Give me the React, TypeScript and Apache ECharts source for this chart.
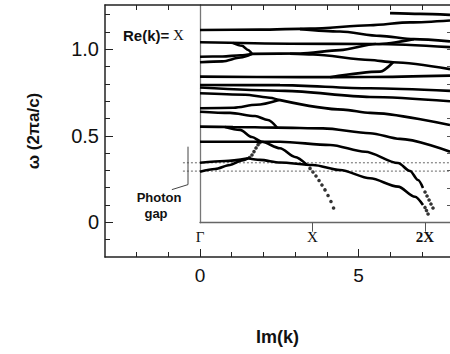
import React, { useEffect, useRef } from "react";
import * as echarts from "echarts";

// ---------- axes ----------
const imKRange = [-3, 7.89];
const omegaRange = [-0.2, 1.255];
const innerOmegaRange = [0, 1.255];
const reKRange = [0, 2.222];

const imKMinorTicks = [-2, -1, 1, 2, 3, 4, 6, 7];
const imKTopTicks = [-2, -1, 1, 2, 3, 4, 5, 6, 7];
const imKMajorTicks = [0, 5];
const imKLabels = [0, 5];
const omegaMinorTicks = [-0.1, 0.1, 0.2, 0.3, 0.4, 0.6, 0.7, 0.8, 0.9, 1.1, 1.2];
const omegaMajorTicks = [0, 0.5, 1.0];
const omegaLabels = [0, 0.5, 1.0];
const reKTickValues = [1, 2];
const reKLabelValues = [0, 1, 2];
const reKLabels = ["Γ", "X", "2X"];
const innerRightTicks = [0.1, 0.2, 0.3, 0.4, 0.5, 0.6, 0.7, 0.8, 0.9, 1.0, 1.1, 1.2];

// ---------- photon gap ----------
const gapEdges = [0.296, 0.344];
const gapLineImK = [-0.54, 7.89];
const gapBracket = [[-0.38, 0.437], [-0.38, 0.218], [-0.89, 0.189]];

// ---------- bands (Re(k) in units of X, omega in 2πa/c) ----------
const bandTopShort = [[1.689, 1.208], [1.956, 1.204], [2.222, 1.198]];
const bandA = [[0, 1.111], [0.533, 1.113], [0.978, 1.119], [1.511, 1.138], [1.867, 1.155], [2.222, 1.166]];
const bandABranch = [[0.889, 1.116], [1.244, 1.102], [1.6, 1.077], [1.9, 1.058], [2.222, 1.045]];
const bandB = [[0, 1.04], [0.8, 1.032], [1.564, 1.03], [2.222, 1.012]];
const bandBLoop = [[0.29, 1.037], [0.373, 1.02], [0.427, 0.996], [0.462, 0.973]];
const bandC1 = [[0, 0.957], [0.2, 0.958], [0.36, 0.965], [0.462, 0.973]];
const bandC2 = [[0, 0.925], [0.2, 0.93], [0.36, 0.952], [0.462, 0.973]];
const bandC = [[0.462, 0.973], [0.889, 0.975], [1.244, 0.995], [1.564, 1.03], [1.9, 1.058]];
const bandD = [[0.8, 0.974], [1.004, 0.97], [1.511, 0.938], [1.716, 0.925], [2.222, 0.885]];
const bandE = [[0, 0.842], [0.889, 0.839], [1.511, 0.84], [2.222, 0.848]];
const bandELoop = [[1.156, 0.839], [1.6, 0.871], [1.716, 0.925]];
const bandF = [[0, 0.794], [0.711, 0.793], [1.511, 0.775], [2.222, 0.76]];
const bandG = [[0, 0.779], [0.756, 0.76], [1.511, 0.725], [2.222, 0.7]];
const bandH1 = [[0, 0.746], [0.4, 0.738], [0.6, 0.722], [0.702, 0.708]];
const bandH2 = [[0, 0.66], [0.3, 0.663], [0.5, 0.68], [0.702, 0.708]];
const bandH = [[0.702, 0.708], [1.271, 0.652], [1.511, 0.633], [2.222, 0.563]];
const bandI = [[0, 0.64], [0.267, 0.633], [0.489, 0.615], [0.604, 0.592], [0.684, 0.549]];
const bandJ = [[0, 0.554], [0.293, 0.552], [0.684, 0.548], [1.093, 0.544], [1.511, 0.516], [1.778, 0.483], [2.222, 0.409]];
const bandJDiag = [[0.222, 0.552], [0.356, 0.535], [0.462, 0.494], [0.548, 0.467], [0.711, 0.429], [0.844, 0.379], [0.951, 0.333]];
const bandK = [[0, 0.467], [0.711, 0.467], [1.156, 0.448], [1.467, 0.409], [1.76, 0.344], [1.867, 0.298], [1.938, 0.246], [1.982, 0.2]];
const bandL1 = [[0, 0.346], [0.222, 0.356], [0.427, 0.371]];
const bandL2 = [[0, 0.294], [0.133, 0.31], [0.267, 0.333], [0.373, 0.359], [0.427, 0.371]];
const bandL = [[0.427, 0.371], [0.533, 0.362], [0.711, 0.347], [1.004, 0.333], [1.244, 0.304], [1.511, 0.256], [1.76, 0.208], [1.911, 0.15], [1.982, 0.102]];

const dotsJ = [[0.978, 0.313], [1.004, 0.292], [1.031, 0.269], [1.058, 0.243], [1.084, 0.217], [1.111, 0.189], [1.138, 0.157], [1.164, 0.122], [1.187, 0.085]];
const dotsK = [[2.0, 0.177], [2.018, 0.154], [2.036, 0.131], [2.053, 0.108], [2.071, 0.085]];
const dotsL = [[2.0, 0.088], [2.013, 0.07], [2.027, 0.05]];
const dotsRise = [[0.44, 0.375], [0.462, 0.39], [0.48, 0.41], [0.498, 0.431], [0.516, 0.45], [0.534, 0.462]];

const solidBands = [bandTopShort, bandA, bandABranch, bandB, bandBLoop, bandC1, bandC2, bandC, bandD, bandE, bandELoop, bandF, bandG, bandH1, bandH2, bandH, bandI, bandJ, bandJDiag, bandK, bandL1, bandL2, bandL];
const dottedBands = [dotsJ, dotsK, dotsL, dotsRise];

const SANS = "Liberation Sans, Arial, sans-serif";
const SERIF = "Liberation Serif, Times New Roman, serif";
const FRAME = "#222";

export default function App() {
  const ref = useRef<HTMLDivElement>(null);
  useEffect(() => {
    if (!ref.current) return;
    const chart = echarts.init(ref.current, undefined, { renderer: "svg" });
    const series: any[] = [];
    gapEdges.forEach((w) =>
      series.push({
        type: "line", xAxisIndex: 0, yAxisIndex: 0, symbol: "none", silent: true,
        data: gapLineImK.map((x) => [x, w]),
        lineStyle: { color: "#666", width: 1, type: [2, 2] },
      })
    );
    series.push({
      type: "line", xAxisIndex: 0, yAxisIndex: 0, symbol: "none", silent: true,
      data: gapBracket, lineStyle: { color: "#444", width: 1 },
    });
    solidBands.forEach((b) =>
      series.push({
        type: "line", xAxisIndex: 3, yAxisIndex: 2, symbol: "none", silent: true,
        smooth: 0.3, smoothMonotone: "x", data: b,
        lineStyle: { color: "#000", width: 2.6 },
      })
    );
    dottedBands.forEach((b) =>
      series.push({
        type: "scatter", xAxisIndex: 3, yAxisIndex: 2, silent: true,
        symbol: "circle", symbolSize: 3.6, data: b, itemStyle: { color: "#000" },
      })
    );

    const option: any = {
      animation: false,
      backgroundColor: "#fff",
      grid: [
        { left: 105, right: 0, top: 5, bottom: 97 },
        { left: 200, right: 0, top: 5, bottom: 131.3 },
        { left: 105, right: 0, top: 5, bottom: 97 },
      ],
      xAxis: [
        {
          gridIndex: 0, type: "value", position: "bottom", min: imKRange[0], max: imKRange[1],
          splitLine: { show: false },
          axisLine: { show: true, onZero: false, lineStyle: { color: FRAME, width: 1.5 } },
          axisTick: { show: true, inside: true, length: 5, customValues: imKMinorTicks, lineStyle: { color: FRAME } },
          axisLabel: { customValues: imKLabels, fontSize: 19, color: "#111", fontFamily: SANS, margin: 9, formatter: (v: number) => String(v) },
          name: "Im(k)", nameLocation: "middle", nameGap: 71,
          nameTextStyle: { fontSize: 18, fontWeight: "bold", color: "#111", fontFamily: SANS },
        },
        {
          gridIndex: 0, type: "value", position: "top", min: imKRange[0], max: imKRange[1],
          splitLine: { show: false },
          axisLine: { show: true, onZero: false, lineStyle: { color: FRAME, width: 1.5 } },
          axisTick: { show: true, inside: true, length: 5, customValues: imKTopTicks, lineStyle: { color: FRAME } },
          axisLabel: { show: false },
        },
        {
          gridIndex: 2, type: "value", position: "bottom", min: imKRange[0], max: imKRange[1],
          splitLine: { show: false },
          axisLine: { show: false, onZero: false },
          axisTick: { show: true, inside: true, length: 8, customValues: imKMajorTicks, lineStyle: { color: FRAME } },
          axisLabel: { show: false },
        },
        {
          gridIndex: 1, type: "value", position: "bottom", min: reKRange[0], max: reKRange[1],
          splitLine: { show: false },
          axisLine: { show: true, onZero: false, lineStyle: { color: "#666", width: 1.3 } },
          axisTick: { show: true, inside: false, length: 9, customValues: reKTickValues, lineStyle: { color: "#555" } },
          axisLabel: {
            customValues: reKLabelValues, margin: 7, fontSize: 15, color: "#111", fontFamily: SERIF,
            formatter: (v: number) => {
              const s = reKLabels[reKLabelValues.indexOf(Math.round(v))];
              return s === "2X" ? "{b|2X}" : s;
            },
            rich: { b: { fontSize: 15, fontWeight: "bold", fontFamily: SERIF, color: "#111" } },
          },
        },
      ],
      yAxis: [
        {
          gridIndex: 0, type: "value", position: "left", min: omegaRange[0], max: omegaRange[1],
          splitLine: { show: false },
          axisLine: { show: true, onZero: false, lineStyle: { color: FRAME, width: 1.5 } },
          axisTick: { show: true, inside: true, length: 5, customValues: omegaMinorTicks, lineStyle: { color: FRAME } },
          axisLabel: {
            customValues: omegaLabels, fontSize: 20, color: "#111", fontFamily: SANS, margin: 6,
            formatter: (v: number) => (v === 0 ? "0" : v.toFixed(1)),
          },
          name: "ω (2πa/c)", nameLocation: "middle", nameGap: 63,
          nameTextStyle: { fontSize: 17, fontWeight: "bold", color: "#111", fontFamily: SANS },
        },
        {
          gridIndex: 2, type: "value", position: "left", min: omegaRange[0], max: omegaRange[1],
          splitLine: { show: false },
          axisLine: { show: false, onZero: false },
          axisTick: { show: true, inside: true, length: 8, customValues: omegaMajorTicks, lineStyle: { color: FRAME } },
          axisLabel: { show: false },
        },
        {
          gridIndex: 1, type: "value", position: "left", min: innerOmegaRange[0], max: innerOmegaRange[1],
          splitLine: { show: false },
          axisLine: { show: true, onZero: false, lineStyle: { color: "#777", width: 1.3 } },
          axisTick: { show: false },
          axisLabel: { show: false },
        },
        {
          gridIndex: 1, type: "value", position: "right", min: innerOmegaRange[0], max: innerOmegaRange[1],
          splitLine: { show: false },
          axisLine: { show: false, onZero: false },
          axisTick: { show: true, inside: true, length: 3, customValues: innerRightTicks, lineStyle: { color: "#555" } },
          axisLabel: { show: false },
        },
      ],
      graphic: [
        { type: "text", x: 123, y: 35, style: { text: "Re(k)=", font: "bold 15px " + SANS, fill: "#111", textAlign: "left", textVerticalAlign: "middle" } },
        { type: "text", x: 173, y: 35, style: { text: "X", font: "15px " + SERIF, fill: "#111", textAlign: "left", textVerticalAlign: "middle" } },
        { type: "text", x: 159, y: 197, style: { text: "Photon", font: "bold 13px " + SANS, fill: "#111", textAlign: "center", textVerticalAlign: "middle" } },
        { type: "text", x: 156, y: 213, style: { text: "gap", font: "bold 13px " + SANS, fill: "#111", textAlign: "center", textVerticalAlign: "middle" } },
      ],
      series,
    };
    chart.setOption(option);
    return () => chart.dispose();
  }, []);
  return <div ref={ref} style={{ position: "fixed", left: 0, top: 0, width: 450, height: 354 }} />;
}
